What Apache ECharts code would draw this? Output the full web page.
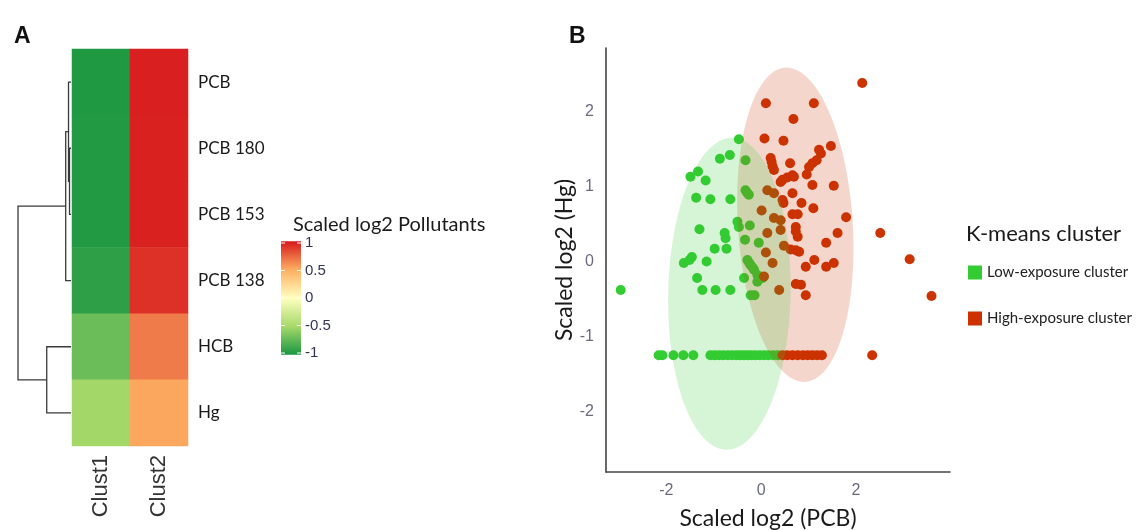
<!DOCTYPE html>
<html>
<head>
<meta charset="utf-8">
<title>Pollutant clusters</title>
<script src="https://cdn.jsdelivr.net/npm/echarts@6/dist/echarts.min.js"></script>
<style>
  html, body { margin: 0; padding: 0; background: #fff; }
  #chart { width: 1138px; height: 530px; }
</style>
</head>
<body>
<div id="chart"></div>
<script>
// heatmap (panel A)
var rows = ['PCB', 'PCB 180', 'PCB 153', 'PCB 138', 'HCB', 'Hg'];
var clusters = ['Clust1', 'Clust2'];
var clust1 = [-0.98, -0.97, -0.97, -0.93, -0.71, -0.51];
var clust2 = [0.98, 0.97, 0.97, 0.92, 0.67, 0.52];
var scaleTicks = [-1, -0.5, 0, 0.5, 1];
var palette = ['#1a9641', '#a6d96a', '#ffffbf', '#fdae61', '#d7191c'];

// dendrogram merges, R hclust style: negative = leaf (row), positive = earlier merge
var merges = [
  [-2, -3, 0.028],
  [-1, 1, 0.047],
  [2, -4, 0.10],
  [-5, -6, 0.458],
  [3, 4, 1.0]
];

// scatter (panel B)
var lowExposure = [
  [-2.96, -0.38], [-0.47, 1.63], [-0.87, 1.37], [-0.66, 1.42], [-1.49, 1.13], [-1.33, 1.20],
  [-1.17, 1.08], [-1.37, 0.85], [-1.07, 0.83], [-0.65, 0.83], [-0.33, 1.35], [-0.33, 0.95],
  [-0.30, 0.92], [-0.26, 0.89], [-0.50, 0.53], [-0.47, 0.46], [-0.24, 0.48], [-1.30, 0.43],
  [-0.77, 0.38], [-0.75, 0.31], [-0.34, 0.29], [-0.05, 0.25], [-0.98, 0.17], [-0.73, 0.17],
  [-1.63, -0.02], [-1.51, 0.02], [-1.46, 0.06], [-1.15, 0.00], [-0.29, 0.02], [-0.25, -0.02],
  [-0.22, -0.05], [-0.18, -0.08], [-0.15, -0.11], [-0.08, -0.18], [0.03, -0.22], [-1.35, -0.22],
  [-0.36, -0.22], [-0.08, -0.27], [-1.24, -0.38], [-0.96, -0.38], [-0.65, -0.38], [-0.22, -0.45],
  [-0.14, -0.45],
  [-2.16, -1.25], [-2.08, -1.25], [-1.85, -1.25], [-1.64, -1.25], [-1.43, -1.25], [-1.07, -1.25],
  [-0.98, -1.25], [-0.89, -1.25], [-0.80, -1.25], [-0.70, -1.25], [-0.61, -1.25], [-0.52, -1.25],
  [-0.44, -1.25], [-0.36, -1.25], [-0.28, -1.25], [-0.20, -1.25], [-0.12, -1.25], [-0.03, -1.25],
  [0.06, -1.25], [0.15, -1.25], [0.25, -1.25], [0.35, -1.25]
];
var highExposure = [
  [2.13, 2.38], [1.11, 2.11], [0.10, 2.11], [0.68, 1.90], [0.07, 1.64], [0.47, 1.61],
  [1.47, 1.54], [1.22, 1.49], [1.26, 1.44], [1.17, 1.35], [1.08, 1.31], [1.01, 1.26],
  [0.61, 1.31], [0.20, 1.38], [0.22, 1.33], [0.24, 1.27], [0.27, 1.22], [0.96, 1.16],
  [0.69, 1.13], [0.55, 1.12], [0.45, 1.09], [0.41, 1.06], [0.66, 1.15], [1.08, 1.02],
  [1.53, 1.01], [0.13, 0.95], [0.27, 0.91], [0.66, 0.91], [0.47, 0.78], [0.45, 0.82],
  [0.85, 0.78], [1.10, 0.71], [0.01, 0.68], [0.66, 0.63], [0.77, 0.63], [1.79, 0.59],
  [0.27, 0.58], [0.41, 0.55], [0.73, 0.46], [0.73, 0.40], [0.77, 0.33], [0.41, 0.42],
  [0.13, 0.38], [1.61, 0.38], [2.51, 0.38], [1.37, 0.25], [0.48, 0.21], [0.62, 0.16],
  [0.73, 0.15], [0.80, 0.13], [0.10, 0.12], [3.13, 0.03], [1.12, 0.02], [0.94, -0.07],
  [1.37, -0.07], [1.53, -0.02], [0.24, -0.02], [0.06, -0.20], [0.73, -0.30], [0.84, -0.31],
  [0.94, -0.45], [0.38, -0.38], [3.59, -0.46],
  [0.45, -1.25], [0.55, -1.25], [0.66, -1.25], [0.77, -1.25], [0.88, -1.25], [0.98, -1.25],
  [1.08, -1.25], [1.18, -1.25], [1.28, -1.25], [2.34, -1.25]
];
// ellipses: centre x, centre y, half width, half height (data units), tilt (rad, screen)
var lowEllipse = [-0.67, -0.43, 1.29, 2.08, 0.02];
var highEllipse = [0.72, 0.49, 1.21, 2.10, -0.064];

var green = '#33cc33';
var red = '#cc3300';
var textFont = 'Lato';
var numFont = 'Liberation Sans';

// heatmap cells
var heatData = [];
rows.forEach(function (r, i) {
  heatData.push([0, i, clust1[i]]);
  heatData.push([1, i, clust2[i]]);
});

// dendrogram segments
var nodeY = [], nodeH = [];
var dendroData = merges.map(function (m, k) {
  function pos(idx) {
    return idx < 0 ? [-idx - 1, 0] : [nodeY[idx - 1], nodeH[idx - 1]];
  }
  var a = pos(m[0]), b = pos(m[1]);
  nodeY[k] = (a[0] + b[0]) / 2;
  nodeH[k] = m[2];
  return [a[1], a[0], b[1], b[0], m[2]];
});

function renderDendro(params, api) {
  var p = [
    api.coord([api.value(0), api.value(1)]),
    api.coord([api.value(4), api.value(1)]),
    api.coord([api.value(4), api.value(3)]),
    api.coord([api.value(2), api.value(3)])
  ];
  return {
    type: 'polyline',
    shape: { points: p },
    style: { stroke: '#3a3a3a', lineWidth: 1.3, fill: null }
  };
}

function ellipseRenderer(color) {
  return function (params, api) {
    var c = api.coord([api.value(0), api.value(1)]);
    var s = api.size([api.value(2), api.value(3)]);
    var rot = api.value(4);
    var pts = [];
    for (var k = 0; k < 96; k++) {
      var t = k / 96 * Math.PI * 2;
      var ex = s[0] * Math.cos(t), ey = s[1] * Math.sin(t);
      pts.push([c[0] + ex * Math.cos(rot) - ey * Math.sin(rot),
                c[1] + ex * Math.sin(rot) + ey * Math.cos(rot)]);
    }
    return {
      type: 'polygon',
      shape: { points: pts },
      style: { fill: color, opacity: 0.2, stroke: null }
    };
  };
}

// colour bar with white tick dashes at both edges
function renderScale(params, api) {
  var top = api.coord([0, 1.03]);
  var bot = api.coord([1, -1.03]);
  var w = bot[0] - top[0];
  var stops = palette.slice().reverse().map(function (c, i) {
    return { offset: i / (palette.length - 1), color: c };
  });
  var children = [{
    type: 'rect',
    shape: { x: top[0], y: top[1], width: w, height: bot[1] - top[1] },
    style: { fill: new echarts.graphic.LinearGradient(0, 0, 0, 1, stops) }
  }];
  scaleTicks.forEach(function (v) {
    var y = api.coord([0, v])[1];
    children.push({ type: 'line', shape: { x1: top[0], y1: y, x2: top[0] + 4, y2: y }, style: { stroke: '#fff', lineWidth: 1 } });
    children.push({ type: 'line', shape: { x1: bot[0] - 4, y1: y, x2: bot[0], y2: y }, style: { stroke: '#fff', lineWidth: 1 } });
  });
  return { type: 'group', children: children };
}

function intLabel(v) {
  return Math.abs(v - Math.round(v)) < 1e-6 ? String(Math.round(v)) : '';
}

var chart = echarts.init(document.getElementById('chart'));

var option = {
  animation: false,
  backgroundColor: '#fff',
  title: [
    { text: 'A', left: 9, top: 20, textStyle: { fontFamily: numFont, fontSize: 23, fontWeight: 'bold', color: '#111' } },
    { text: 'B', left: 564, top: 20, textStyle: { fontFamily: numFont, fontSize: 23, fontWeight: 'bold', color: '#111' } },
    { text: 'Scaled log2 Pollutants', left: 288, top: 210, textStyle: { fontFamily: textFont, fontSize: 20, fontWeight: 'normal', color: '#1a1a1a' } },
    { text: 'K-means cluster', left: 961, top: 218, textStyle: { fontFamily: textFont, fontSize: 22, fontWeight: 'normal', color: '#1a1a1a' } }
  ],
  legend: {
    data: ['Low-exposure cluster', 'High-exposure cluster'],
    orient: 'vertical',
    left: 963,
    top: 260,
    icon: 'rect',
    itemWidth: 14,
    itemHeight: 14,
    itemGap: 31,
    selectedMode: false,
    textStyle: { fontFamily: textFont, fontSize: 15, color: '#222' }
  },
  visualMap: {
    type: 'continuous',
    show: false,
    min: -1,
    max: 1,
    seriesIndex: 1,
    inRange: { color: palette }
  },
  grid: [
    { left: 0, top: 49, width: 71, height: 397, outerBoundsMode: 'none' },
    { left: 72, top: 49, width: 116, height: 397, outerBoundsMode: 'none' },
    { left: 281, top: 243, width: 20, height: 110, outerBoundsMode: 'none' },
    { left: 606, top: 48, width: 344, height: 424, outerBoundsMode: 'none' }
  ],
  xAxis: [
    { gridIndex: 0, type: 'value', min: 0, max: 1.34, inverse: true, show: false },
    {
      gridIndex: 1, type: 'category', data: clusters, position: 'bottom',
      axisLine: { show: false }, axisTick: { show: false },
      axisLabel: { rotate: 90, margin: 9, fontFamily: numFont, fontSize: 22, color: '#333' }
    },
    { gridIndex: 2, type: 'value', min: 0, max: 1, show: false },
    {
      gridIndex: 3, type: 'value', min: -3.27, max: 3.98, splitNumber: 4,
      name: 'Scaled log2 (PCB)', nameLocation: 'middle', nameGap: 35,
      nameTextStyle: { fontFamily: textFont, fontSize: 23, color: '#1a1a1a', padding: [0, 20, 0, 0] },
      axisLine: { show: true, onZero: false, lineStyle: { color: '#444', width: 1.6 } },
      axisTick: { show: false },
      splitLine: { show: false },
      axisLabel: { showMinLabel: false, showMaxLabel: false, margin: 11, fontFamily: numFont, fontSize: 16, color: '#6a6a80', formatter: intLabel }
    }
  ],
  yAxis: [
    { gridIndex: 0, type: 'value', min: -0.5, max: 5.5, inverse: true, show: false },
    {
      gridIndex: 1, type: 'category', data: rows, inverse: true, position: 'right',
      axisLine: { show: false }, axisTick: { show: false },
      axisLabel: { margin: 10, fontFamily: textFont, fontSize: 17, color: '#1a1a1a' }
    },
    {
      gridIndex: 2, type: 'value', min: -1, max: 1, interval: 0.5, position: 'right',
      axisLine: { show: false },
      axisTick: { show: false },
      splitLine: { show: false },
      axisLabel: { margin: 4, fontFamily: numFont, fontSize: 15, color: '#33335a' }
    },
    {
      gridIndex: 3, type: 'value', min: -2.807, max: 2.847, splitNumber: 5,
      name: 'Scaled log2 (Hg)', nameLocation: 'middle', nameGap: 28,
      nameTextStyle: { fontFamily: textFont, fontSize: 23, color: '#1a1a1a' },
      axisLine: { show: true, onZero: false, lineStyle: { color: '#444', width: 1.6 } },
      axisTick: { show: false },
      splitLine: { show: false },
      axisLabel: { showMinLabel: false, showMaxLabel: false, margin: 12, fontFamily: numFont, fontSize: 16, color: '#6a6a80', formatter: intLabel }
    }
  ],
  series: [
    {
      type: 'custom', xAxisIndex: 0, yAxisIndex: 0, clip: false,
      encode: { x: [0, 2, 4], y: [1, 3] },
      renderItem: renderDendro, data: dendroData, silent: true
    },
    {
      type: 'heatmap', xAxisIndex: 1, yAxisIndex: 1, data: heatData,
      itemStyle: { borderWidth: 0 }, silent: true
    },
    {
      type: 'custom', xAxisIndex: 2, yAxisIndex: 2, clip: false,
      renderItem: renderScale, data: [[0, 0]], silent: true
    },
    {
      name: 'Low-exposure cluster', type: 'scatter', xAxisIndex: 3, yAxisIndex: 3,
      data: lowExposure, symbol: 'circle', symbolSize: 10, z: 2,
      itemStyle: { color: green, opacity: 1 }
    },
    {
      name: 'High-exposure cluster', type: 'scatter', xAxisIndex: 3, yAxisIndex: 3,
      data: highExposure, symbol: 'circle', symbolSize: 10, z: 2,
      itemStyle: { color: red, opacity: 1 }
    },
    {
      type: 'custom', xAxisIndex: 3, yAxisIndex: 3, z: 3, silent: true, clip: false,
      encode: { x: 0, y: 1 },
      renderItem: ellipseRenderer(red), data: [highEllipse]
    },
    {
      type: 'custom', xAxisIndex: 3, yAxisIndex: 3, z: 3, silent: true, clip: false,
      encode: { x: 0, y: 1 },
      renderItem: ellipseRenderer(green), data: [lowEllipse]
    }
  ]
};

chart.setOption(option);
</script>
</body>
</html>
